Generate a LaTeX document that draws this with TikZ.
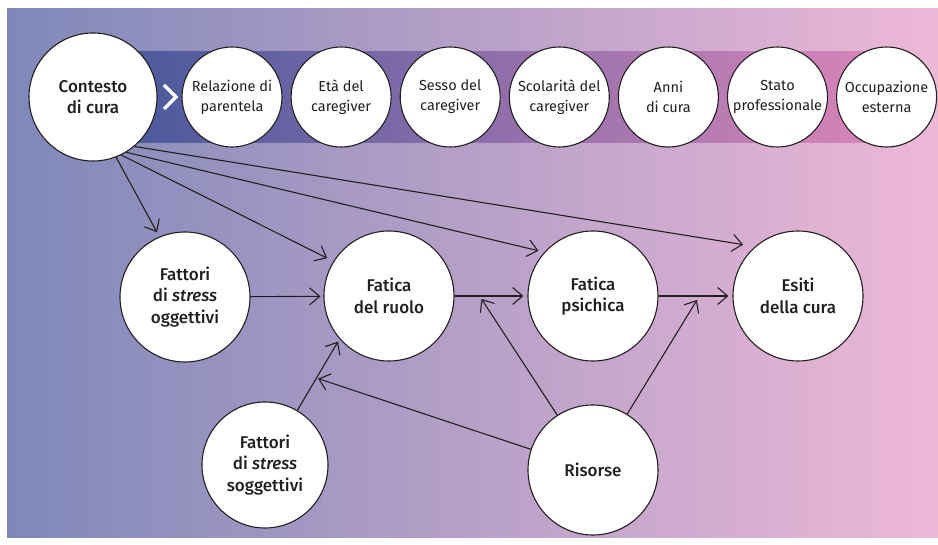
\documentclass[tikz,border=0pt]{standalone}
\usepackage{fontspec}
\setmainfont{Fira Sans}[BoldFont={Fira Sans Medium},BoldItalicFont={Fira Sans Medium Italic}]
\usetikzlibrary{shapes,
                arrows.meta,
                positioning}
\definecolor{ink}{HTML}{231F20}
\definecolor{bgleft}{HTML}{7F88B9}
\definecolor{bgmid}{HTML}{B09DC8}
\definecolor{bgright}{HTML}{EEB8D7}
\definecolor{bandleft}{HTML}{48599C}
\definecolor{bandmid}{HTML}{8A68A8}
\definecolor{bandright}{HTML}{DC86BA}
\tikzset{bigcircle/.style=
   {circle,
    draw=ink,
    fill=white,
    line width=1.1pt,
    text=ink,
    align=center,
    inner sep=0pt,
    minimum size=130pt,
    font=\bfseries\fontsize{17}{21.5}\selectfont}}
\tikzset{smallcircle/.style=
   {circle,
    draw=ink,
    fill=white,
    line width=1.1pt,
    text=ink,
    align=center,
    inner sep=0pt,
    minimum size=100pt,
    font=\fontsize{14.5}{20}\selectfont}}
\tikzset{arrow/.style = {draw=ink, line width=1.1pt, -{Straight Barb[length=10pt,width=17pt]}}}

\begin{document}
\begin{tikzpicture}[x=1pt, y=-1pt, auto]

    % Background
    \useasboundingbox (0,0) rectangle (938,545);
    \shade [left color=bgleft, middle color=bgmid, right color=bgright] (7,9) rectangle (938,537);
    \shade [left color=bandleft, middle color=bandmid, right color=bandright] (120,52) rectangle (900,143);

    % Place nodes
    \node [bigcircle, minimum size=128pt] (contesto) at (93,97) {Contesto\\di cura};
    \draw [white, line width=3.5pt, line join=miter] (164,85) -- (176,97) -- (164,109);
    \node [smallcircle] (relazione) at (232,97) {Relazione di\\parentela};
    \node [smallcircle, right=8pt of relazione] (eta) {Età del\\caregiver};
    \node [smallcircle, right=8pt of eta] (sesso) {Sesso del\\caregiver};
    \node [smallcircle, right=8pt of sesso] (scolarita) {Scolarità del\\caregiver};
    \node [smallcircle, right=8pt of scolarita] (anni) {Anni\\di cura};
    \node [smallcircle, right=8pt of anni] (stato) {Stato\\professionale};
    \node [smallcircle, right=8pt of stato] (occupazione) {Occupazione\\esterna};

    \node [bigcircle] (oggettivi) at (185,297) {Fattori\\di \textit{stress}\\oggettivi};
    \node [bigcircle] (ruolo) at (389,296) {Fatica\\del ruolo};
    \node [bigcircle] (psichica) at (593,296) {Fatica\\psichica};
    \node [bigcircle] (esiti) at (798,296) {Esiti\\della cura};
    \node [bigcircle, minimum size=126pt] (soggettivi) at (265,465) {Fattori\\di \textit{stress}\\soggettivi};
    \node [bigcircle] (risorse) at (593,470) {Risorse};

    % Draw edges
    \path [arrow, shorten >=5pt] (contesto.-69) -- (oggettivi.113);
    \path [arrow, shorten >=7pt] (contesto.-64) -- (ruolo.148);
    \path [arrow, shorten >=6pt] (contesto.-59) -- (psichica.138);
    \path [arrow, shorten >=12pt] (contesto.-50) -- (esiti.131);

    \path [arrow, shorten >=3pt] (oggettivi) -- (ruolo);
    \path [arrow, shorten >=4pt] (ruolo) -- coordinate[pos=0.37] (ruolopsi) (psichica);
    \path [arrow, shorten >=4pt] (psichica) -- coordinate[pos=0.52] (psiesiti) (esiti);
    \path [arrow, shorten >=3pt] (soggettivi) -- coordinate[pos=0.445] (soggruolo) (ruolo.221);

    \path [arrow] (risorse) -- ([yshift=-3pt] ruolopsi);
    \path [arrow] (risorse) -- ([yshift=-4pt] psiesiti);
    \path [arrow] (risorse) -- ([xshift=2pt] soggruolo);

\end{tikzpicture}
\end{document}
